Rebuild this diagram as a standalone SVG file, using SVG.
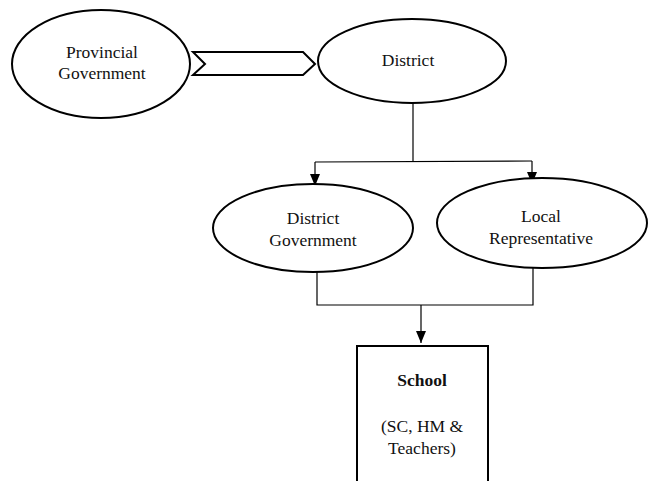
<svg xmlns="http://www.w3.org/2000/svg" width="651" height="481" viewBox="0 0 651 481">
<style>
.n{fill:#fff;stroke:#000;stroke-width:2}
.t{font-family:'Liberation Serif','DejaVu Serif',serif;font-size:17.5px;fill:#111;text-anchor:middle}
.b{font-weight:bold}
.c{fill:none;stroke:#000;stroke-width:1.2}
</style>
<defs>
<marker id="ah" markerWidth="12" markerHeight="10" refX="12" refY="5" orient="auto" markerUnits="userSpaceOnUse">
<path d="M0,0 L12,5 L0,10 Z" fill="#000"/>
</marker>
</defs>
<rect width="651" height="481" fill="#fff"/>
<g id="connectors">
<path class="n" d="M193,52 L303,52 L315,64 L303,75 L193,75 L205,64 Z"/>
<path class="c" d="M413,103 L413,162"/>
<path class="c" d="M315,162 L532,161"/>
<path class="c" d="M315,162 L315,186" marker-end="url(#ah)"/>
<path class="c" d="M532,161 L532,184" marker-end="url(#ah)"/>
<path class="c" d="M317,272 L317,305 L533,305 L533,268"/>
<path class="c" d="M421,305 L421,343" marker-end="url(#ah)"/>
</g>
<g id="provincial">
<ellipse class="n" cx="101" cy="64" rx="89" ry="54"/>
<text class="t" x="102" y="58">Provincial</text>
<text class="t" x="102" y="79">Government</text>
</g>
<g id="district">
<ellipse class="n" cx="412" cy="61" rx="94" ry="42"/>
<text class="t" x="408" y="66">District</text>
</g>
<g id="district-government">
<ellipse class="n" cx="313" cy="228" rx="100" ry="44"/>
<text class="t" x="313" y="224">District</text>
<text class="t" x="313" y="246">Government</text>
</g>
<g id="local-representative">
<ellipse class="n" cx="542" cy="223" rx="105" ry="45"/>
<text class="t" x="541" y="222">Local</text>
<text class="t" x="541" y="244">Representative</text>
</g>
<g id="school">
<rect class="n" x="357" y="346" width="131" height="140"/>
<text class="t b" x="422" y="386">School</text>
<text class="t" x="422" y="432">(SC, HM &amp;</text>
<text class="t" x="422" y="454">Teachers)</text>
</g>
</svg>
